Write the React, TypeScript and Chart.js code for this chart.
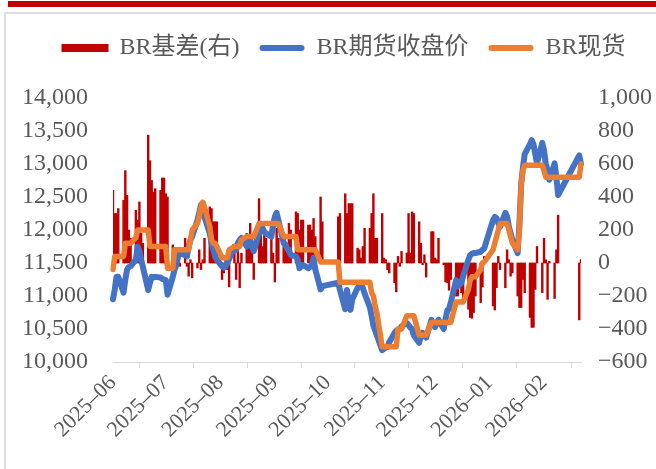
import React, { useEffect, useRef } from "react";
import { Chart, registerables } from "chart.js";

Chart.register(...registerables);

// ---------- categories ----------
const FIRST_DAY = "2025-06-03";
const LAST_DAY = "2026-02-24";
// exchange holidays falling on weekdays
const closedDays = [
  "2025-10-01", "2025-10-02", "2025-10-03", "2025-10-06", "2025-10-07", "2025-10-08",
  "2026-01-01", "2026-01-02",
  "2026-02-12", "2026-02-13", "2026-02-16", "2026-02-17", "2026-02-18", "2026-02-19", "2026-02-20",
];
const monthTickDays = [
  "2025-06-03", "2025-07-03", "2025-08-03", "2025-09-03", "2025-10-03",
  "2025-11-03", "2025-12-03", "2026-01-03", "2026-02-03",
];
const monthTickLabels = [
  "2025–06", "2025–07", "2025–08", "2025–09", "2025–10",
  "2025–11", "2025–12", "2026–01", "2026–02",
];
const seriesNames = ["BR基差(右)", "BR期货收盘价", "BR现货"];

// ---------- values (one per trading day) ----------
const futures = [
  10950, 11100, 11290, 11290, 11050, 11250, 11400, 11440, 11450, 11550, 11750, 11680, 11550, 11440, 11090, 11200, 11290, 11280, 11290, 11280, // Jun
  11260, 11250, 11240, 11020, 11290, 11400, 11470, 11600, 11650, 11620, 11600, 11750, 11850, 11900, 12150, 12260, 12380, 12410, 12200, 11950, 11800, 11700, 11600, // Jul
  11550, 11450, 11430, 11450, 11500, 11560, 11750, 11700, 11800, 11850, 11880, 11750, 11800, 11850, 11750, 11680, 11950, 12000, 12030, 11970, 11950, // Aug
  11900, 12080, 12200, 12260, 12150, 11800, 11780, 11720, 11700, 11620, 11600, 11550, 11420, 11450, 11470, 11420, 11440, 11470, 11580, 11400, 11100, 11150, // Sep
  11200, 11090, 10800, 11090, 10900, 10790, 10950, 11120, 11150, 11200, 11120, 11040, 10830, 10700, 10550, 10480, 10400, // Oct
  10180, 10200, 10220, 10230, 10300, 10440, 10470, 10490, 10500, 10540, 10590, 10560, 10520, 10500, 10400, 10290, 10400, 10440, 10400, 10370, // Nov
  10640, 10580, 10530, 10580, 10640, 10500, 10650, 10780, 10800, 10900, 11240, 11150, 11170, 11200, 11300, 11550, 11620, 11640, 11650, 11650, 11670, 11700, 11720, // Dec
  12150, 12200, 12180, 12100, 12050, 12260, 12200, 12050, 11950, 11850, 11650, 12100, 12700, 12950, 13150, 13300, 13360, 13300, 13150, 13010, // Jan
  13320, 13200, 13000, 12910, 12760, 13010, 12800, 12530, 13130, 13000, // Feb
];
const spot = [
  11400, 11600, 11600, 11600, 11600, 11800, 11800, 11800, 11800, 11880, 12000, 12000, 12000, 12000, 12000, 11750, 11750, 11750, 11750, 11750, // Jun
  11750, 11750, 11750, 11420, 11420, 11700, 11700, 11700, 11700, 11700, 11700, 11700, 11850, 12000, 12100, 12200, 12350, 12420, 12350, 12050, 11850, 11800, 11800, // Jul
  11750, 11580, 11580, 11580, 11580, 11700, 11750, 11750, 11750, 11750, 11850, 11900, 11900, 11900, 11900, 11900, 12100, 12100, 12100, 12100, 12100, // Aug
  12100, 12100, 12100, 12100, 12100, 11900, 11900, 11900, 11900, 11900, 11900, 11700, 11700, 11700, 11700, 11700, 11700, 11700, 11700, 11700, 11515, 11515, // Sep
  11515, 11210, 11210, 11210, 11210, 11210, 11210, 11210, 11210, 11210, 11210, 11210, 11210, 11050, 11000, 10850, 10740, // Oct
  10230, 10230, 10230, 10230, 10230, 10230, 10230, 10500, 10500, 10500, 10700, 10700, 10700, 10700, 10700, 10410, 10410, 10410, 10410, 10410, // Nov
  10600, 10600, 10600, 10600, 10600, 10600, 10600, 10600, 10600, 10600, 10910, 10910, 10910, 10910, 10910, 11100, 11240, 11290, 11290, 11290, 11400, 11500, 11515, // Dec
  11700, 11800, 11900, 12000, 12100, 12100, 12100, 12000, 11900, 11800, 11700, 12000, 12700, 12900, 12980, 12980, 12980, 12980, 12980, 12980, // Jan
  12980, 12900, 12800, 12800, 12800, 12800, 12800, 12800, 12800, 13000, // Feb
];
const basis = [
  440, 300, 300, 330, 380, 560, 410, 200, 150, 320, 260, 370, 180, 120, 775, 620, 500, 430, 450, 440, // Jun
  515, 515, 420, 400, 110, 60, 80, 60, -20, 150, -20, -80, 20, -90, -30, 80, -40, 20, 150, 340, 330, 250, 250, // Jul
  250, -100, -60, 30, -40, -145, 100, -100, 90, -150, 60, 180, 100, 240, 130, -100, 390, 200, 100, 180, 150, // Aug
  240, 60, -115, 210, 150, 160, 100, 60, 240, 200, 310, 300, 200, 260, 260, 230, 230, 200, 270, 160, 400, 250, // Sep
  280, 300, 420, 300, 360, 360, 360, 90, 80, 30, 100, 210, 210, 300, 420, 150, 150, // Oct
  300, 30, 20, -40, -60, -120, -175, 40, -20, 70, 60, 300, 60, 310, 300, 250, 120, -10, 50, -85, // Nov
  190, 190, 30, 20, 150, -10, -115, -120, -165, -100, -200, -200, -150, -180, -245, -280, -330, -335, -300, -200, -240, -145, 40, // Dec
  -260, -285, -150, 40, -40, -150, 80, 20, -80, -60, -200, -270, -270, -100, -180, -330, -390, -390, -160, 100, // Jan
  -180, 150, 20, -220, 10, -215, 80, 290, -345, 20, // Feb
];

// ---------- axis settings ----------
const leftMin = 10000;
const leftMax = 14000;
const leftStep = 500;
const rightMin = -600;
const rightMax = 1000;
const rightStep = 200;

const COLORS = ["#C00000", "#4472C4", "#ED7D31"];
const TEXT = "#595959";
const FONT_FAMILY = '"Liberation Serif", "Times New Roman", "Noto Sans CJK SC", serif';

function iso(d: Date) {
  return d.toISOString().slice(0, 10);
}

function buildCalendar(): string[] {
  const out: string[] = [];
  const d = new Date(FIRST_DAY + "T00:00:00Z");
  const end = new Date(LAST_DAY + "T00:00:00Z");
  while (d.getTime() <= end.getTime()) {
    out.push(iso(d));
    d.setUTCDate(d.getUTCDate() + 1);
  }
  return out;
}

const calendar = buildCalendar();
const tradingDays = calendar.filter((k) => {
  const wd = new Date(k + "T00:00:00Z").getUTCDay();
  return wd !== 0 && wd !== 6 && !closedDays.includes(k);
});
const tradeIndex = new Map<string, number>(tradingDays.map((d, i) => [d, i]));

function onCalendar(values: number[]): (number | null)[] {
  return calendar.map((d) => {
    const i = tradeIndex.get(d);
    if (i === undefined) return null;
    const v = values[i];
    return v === undefined ? null : v;
  });
}

const tickIndices = monthTickDays.map((d) => calendar.indexOf(d));

function fmtThousands(v: number) {
  const s = Math.abs(v).toLocaleString("en-US");
  return v < 0 ? "−" + s : s;
}

// legend: fixed height (places the plot top) and a small horizontal shift
const legendTweaks = {
  id: "legendTweaks",
  beforeInit(chart: any) {
    const legend = chart.legend;
    if (!legend) return;
    const origFit = legend.fit;
    legend.fit = function () {
      origFit.call(this);
      this.height = 82;
    };
    const origDraw = legend.draw;
    legend.draw = function (...args: any[]) {
      const ctx = this.ctx;
      ctx.save();
      ctx.translate(16, 0);
      origDraw.apply(this, args);
      ctx.restore();
    };
  },
};

export default function App() {
  const ref = useRef<HTMLCanvasElement | null>(null);

  useEffect(() => {
    const canvas = ref.current;
    if (!canvas) return;

    const chart = new Chart(canvas, {
      type: "bar",
      data: {
        labels: calendar,
        datasets: [
          {
            type: "bar",
            label: seriesNames[0],
            data: onCalendar(basis),
            backgroundColor: COLORS[0],
            borderWidth: 0,
            yAxisID: "y1",
            barPercentage: 1,
            categoryPercentage: 1,
            order: 3,
          },
          {
            type: "line",
            label: seriesNames[1],
            data: onCalendar(futures),
            borderColor: COLORS[1],
            backgroundColor: COLORS[1],
            borderWidth: 6,
            pointRadius: 0,
            tension: 0,
            spanGaps: true,
            borderJoinStyle: "round",
            borderCapStyle: "round",
            yAxisID: "y",
            order: 2,
          },
          {
            type: "line",
            label: seriesNames[2],
            data: onCalendar(spot),
            borderColor: COLORS[2],
            backgroundColor: COLORS[2],
            borderWidth: 5.5,
            pointRadius: 0,
            tension: 0,
            spanGaps: true,
            borderJoinStyle: "round",
            borderCapStyle: "round",
            yAxisID: "y",
            order: 1,
          },
        ],
      } as any,
      options: {
        animation: false,
        responsive: false,
        maintainAspectRatio: false,
        events: [],
        layout: { padding: { top: 16, left: 0, right: 0, bottom: 0 } },
        plugins: {
          tooltip: { enabled: false },
          legend: {
            position: "top",
            align: "center",
            labels: {
              boxWidth: 45,
              boxHeight: 6,
              padding: 20,
              color: TEXT,
              font: { family: FONT_FAMILY, size: 24 },
              generateLabels: (c: any) =>
                c.data.datasets.map((ds: any, i: number) => ({
                  text: ds.label,
                  fillStyle: COLORS[i],
                  strokeStyle: COLORS[i],
                  lineWidth: i === 0 ? 2 : 0,
                  hidden: false,
                  datasetIndex: i,
                  fontColor: TEXT,
                  borderRadius: i === 0 ? 0 : 3,
                })),
            },
          },
        },
        scales: {
          x: {
            type: "category",
            offset: false,
            grid: {
              display: true,
              drawOnChartArea: false,
              drawTicks: true,
              tickLength: 6,
              color: "#D9D9D9",
              lineWidth: 1,
            },
            border: { display: true, color: "#D9D9D9", width: 1 },
            ticks: {
              autoSkip: false,
              minRotation: 45,
              maxRotation: 45,
              padding: 2,
              color: TEXT,
              font: { family: FONT_FAMILY, size: 22 },
              callback: (value: any) => {
                const k = tickIndices.indexOf(Number(value));
                return k >= 0 ? monthTickLabels[k] : null;
              },
            },
            afterBuildTicks: (axis: any) => {
              axis.ticks = tickIndices.map((i) => ({ value: i }));
            },
            afterFit: (axis: any) => {
              axis.height = 107;
            },
          },
          y: {
            type: "linear",
            position: "left",
            min: leftMin,
            max: leftMax,
            grid: { display: false, drawTicks: false },
            border: { display: false },
            ticks: {
              stepSize: leftStep,
              padding: 25,
              color: TEXT,
              font: { family: FONT_FAMILY, size: 24 },
              callback: (v: any) => fmtThousands(Number(v)),
            },
            afterFit: (axis: any) => {
              axis.width = 113;
            },
          },
          y1: {
            type: "linear",
            position: "right",
            min: rightMin,
            max: rightMax,
            grid: { display: false, drawTicks: false },
            border: { display: false },
            ticks: {
              stepSize: rightStep,
              padding: 17,
              color: TEXT,
              font: { family: FONT_FAMILY, size: 24 },
              callback: (v: any) => fmtThousands(Number(v)),
            },
            afterFit: (axis: any) => {
              axis.width = 75;
            },
          },
        },
      } as any,
      plugins: [legendTweaks],
    });

    return () => chart.destroy();
  }, []);

  return (
    <div
      style={{
        position: "absolute",
        left: 0,
        top: 0,
        width: 656,
        height: 469,
        overflow: "hidden",
        background: "#ffffff",
      }}
    >
      <div
        style={{
          position: "absolute",
          left: 8,
          top: 1,
          width: 648,
          height: 6,
          background: "#C00000",
        }}
      />
      <div
        style={{
          position: "absolute",
          left: 4,
          top: 12,
          width: 700,
          height: 500,
          border: "2px solid #DCDCDC",
          boxSizing: "border-box",
        }}
      />
      <canvas
        ref={ref}
        width={656}
        height={469}
        style={{ position: "absolute", left: 0, top: 0, width: 656, height: 469 }}
      />
    </div>
  );
}
